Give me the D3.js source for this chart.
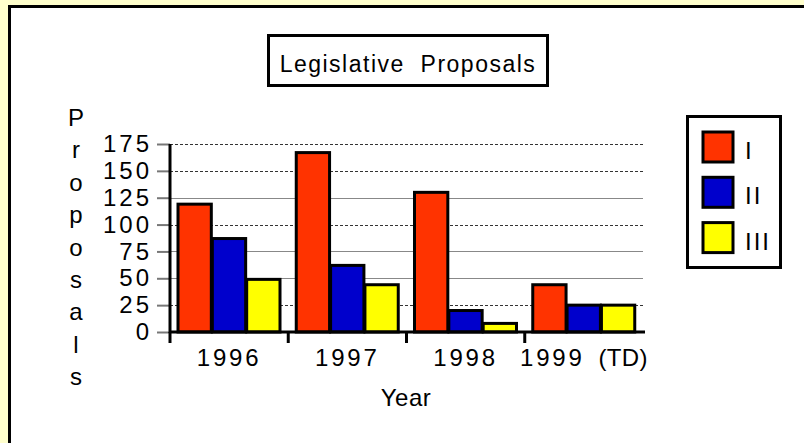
<!DOCTYPE html>
<html><head><meta charset="utf-8">
<script src="https://cdn.jsdelivr.net/npm/d3@7"></script>
<style>
html,body{margin:0;padding:0;background:#ffffcc;}
svg{display:block;}
text{font-family:"Liberation Sans",Arial,Helvetica,sans-serif;fill:#000;}
</style></head>
<body>
<svg id="chart" width="804" height="443"></svg>
<script>
const title = "Legislative  Proposals";
const years = ["1996", "1997", "1998", "1999  (TD)"];
const seriesNames = ["I", "II", "III"];
const seriesI = [119, 167, 130, 44];
const seriesII = [87, 62, 20, 25];
const seriesIII = [49, 44, 8, 25];
const yTicks = [0, 25, 50, 75, 100, 125, 150, 175];
const dashedTicks = [25, 100, 150, 175];
const colors = ["#ff3300", "#0000cc", "#ffff00"];
const yLabel = "Proposals";
const xLabel = "Year";

(function () {
const svg = d3.select("#chart");
const values = [seriesI, seriesII, seriesIII];
const data = years.map((yr, i) => ({year: yr, vals: seriesNames.map((s, j) => ({s, v: values[j][i]}))}));
const FONT = '"Liberation Sans",Arial,sans-serif';

// panel
svg.append("rect").attr("x", 9.5).attr("y", 6.5).attr("width", 830).attr("height", 470)
  .attr("fill", "#fff").attr("stroke", "#000").attr("stroke-width", 3);

const pL = 170, pR = 643, pT = 144, pB = 332;
const x0 = d3.scaleBand().domain(years).range([pL, pR]).padding(0);
const x1 = d3.scaleBand().domain(seriesNames).range([8, 110]).paddingInner(0.03);
const y = d3.scaleLinear().domain([0, 175]).range([pB, pT]);

// gridlines
svg.append("g").selectAll("line").data(yTicks.filter(t => t > 0)).join("line")
  .attr("x1", pL).attr("x2", pR)
  .attr("y1", d => Math.round(y(d)) + 0.5).attr("y2", d => Math.round(y(d)) + 0.5)
  .attr("stroke", d => dashedTicks.includes(d) ? "#333" : "#888")
  .attr("stroke-width", 1)
  .attr("stroke-dasharray", d => dashedTicks.includes(d) ? "3,2" : null);

// y axis
const yAxis = svg.append("g").attr("transform", `translate(${pL},0)`)
  .call(d3.axisLeft(y).tickValues(yTicks).tickSize(13).tickPadding(5));
yAxis.select(".domain").remove();
yAxis.selectAll(".tick line").attr("stroke", "#777").attr("stroke-width", 2);
yAxis.selectAll(".tick text").attr("font-size", 24).attr("letter-spacing", "3px")
  .attr("font-family", FONT).attr("fill", "#000");

// bars
const groups = svg.append("g").selectAll("g").data(data).join("g")
  .attr("transform", d => `translate(${x0(d.year)},0)`);
groups.selectAll("rect").data(d => d.vals).join("rect")
  .attr("x", d => x1(d.s)).attr("width", x1.bandwidth())
  .attr("y", d => y(d.v)).attr("height", d => y(0) - y(d.v))
  .attr("fill", (d, i) => colors[i]).attr("stroke", "#000").attr("stroke-width", 3);

// axis lines
svg.append("line").attr("x1", pL).attr("x2", pL).attr("y1", pT).attr("y2", pB + 1)
  .attr("stroke", "#000").attr("stroke-width", 3);
const xAxis = svg.append("g").attr("transform", `translate(0,${pB})`)
  .call(d3.axisBottom(x0).tickSize(0).tickPadding(17));
xAxis.select(".domain").remove();
xAxis.selectAll(".tick text")
  .attr("font-size", 24).attr("font-family", FONT).attr("fill", "#000").style("white-space", "pre")
  .each(function (d) {
    const t = d3.select(this);
    const k = d.indexOf(" ");
    const parts = k < 0 ? [d] : [d.slice(0, k), d.slice(k)];
    t.text(null);
    t.append("tspan").attr("letter-spacing", "2.8px").text(parts[0]);
    if (parts[1]) t.append("tspan").attr("letter-spacing", "0.3px").text(parts[1]);
  });
svg.append("line").attr("x1", pL).attr("x2", pR + 2).attr("y1", pB).attr("y2", pB)
  .attr("stroke", "#000").attr("stroke-width", 3);
svg.append("g").selectAll("line").data(years).join("line")
  .attr("x1", d => x0(d)).attr("x2", d => x0(d)).attr("y1", pB).attr("y2", pB + 11)
  .attr("stroke", "#000").attr("stroke-width", 3);

// y label stacked
svg.append("g").selectAll("text").data(yLabel.split("")).join("text")
  .attr("x", 76).attr("y", (d, i) => 126 + i * 32.4)
  .attr("text-anchor", "middle").attr("font-size", 24).text(d => d);

// x label
svg.append("text").attr("x", 406).attr("y", 406).attr("text-anchor", "middle")
  .attr("font-size", 24).attr("letter-spacing", "0.5px").text(xLabel);

// title
svg.append("rect").attr("x", 268.5).attr("y", 35.5).attr("width", 279).attr("height", 50)
  .attr("fill", "#fff").attr("stroke", "#000").attr("stroke-width", 3);
svg.append("text").attr("x", 408).attr("y", 72).attr("text-anchor", "middle")
  .attr("font-size", 23).attr("letter-spacing", "1.5px").style("white-space", "pre").text(title);

// legend
svg.append("rect").attr("x", 687.5).attr("y", 116.5).attr("width", 93).attr("height", 151)
  .attr("fill", "#fff").attr("stroke", "#000").attr("stroke-width", 3);
const leg = svg.append("g").selectAll("g").data(seriesNames).join("g")
  .attr("transform", (d, i) => `translate(703,${132 + i * 45.3})`);
leg.append("rect").attr("width", 30).attr("height", 30)
  .attr("fill", (d, i) => colors[i]).attr("stroke", "#000").attr("stroke-width", 3);
leg.append("text").attr("x", 42).attr("y", 27).attr("font-size", 24)
  .attr("letter-spacing", "2px").text(d => d);
})();
</script>
</body></html>
